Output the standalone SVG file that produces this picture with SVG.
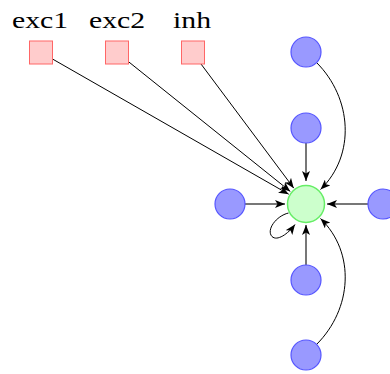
<svg xmlns="http://www.w3.org/2000/svg" width="390" height="374" viewBox="0 0 390 374">
  <style>
    .lbl { font-family: "Liberation Serif", "Times New Roman", serif; font-size: 24px; fill: #000; text-anchor: middle; }
    .inp { fill: #ffcccc; stroke: #ff6666; stroke-width: 1; }
    .src { fill: #9999ff; stroke: #5555ff; stroke-width: 1.2; }
    .tgt { fill: #ccffcc; stroke: #66ee66; stroke-width: 1.5; }
    .thin { fill: none; stroke: #000; stroke-width: 1; marker-end: url(#head); }
    .thick { fill: none; stroke: #777; stroke-width: 2; marker-end: url(#head); }
  </style>
  <defs>
    <marker id="head" viewBox="0 0 10 8" refX="10" refY="4" markerWidth="10" markerHeight="8" markerUnits="userSpaceOnUse" orient="auto">
      <path d="M0,0 L10,4 L0,8 L2.5,4 Z" fill="#000"/>
    </marker>
  </defs>

  <g id="connectors">
    <!-- inputs to the central neuron -->
    <line class="thin" x1="52.5" y1="59" x2="288.7" y2="194.2"/>
    <line class="thin" x1="128.5" y1="61.7" x2="290.3" y2="191.4"/>
    <line class="thin" x1="201" y1="64" x2="293.8" y2="188.2"/>
    <!-- straight projections -->
    <line class="thick" x1="306" y1="143" x2="306" y2="181"/>
    <line class="thick" x1="245" y1="204" x2="285" y2="204"/>
    <line class="thick" x1="368" y1="204" x2="327" y2="204"/>
    <line class="thick" x1="306" y1="265" x2="306" y2="225"/>
    <!-- bent projections -->
    <path class="thin" d="M316.6,62.6 C352,98 356,155 320.5,189.5"/>
    <path class="thin" d="M316.6,344.4 C352,309 356,253 320.5,218.5"/>
    <!-- self connection -->
    <path class="thin" d="M288.5,213 C276,216 266,230 272,236.5 C277,241.5 288,234 295,224.5"/>
  </g>

  <g id="exc1">
    <rect class="inp" x="29.5" y="41" width="23" height="23"/>
    <text class="lbl" transform="translate(40 28) scale(1.24 1)">exc1</text>
  </g>
  <g id="exc2">
    <rect class="inp" x="105.5" y="41" width="23" height="23"/>
    <text class="lbl" transform="translate(117 28) scale(1.24 1)">exc2</text>
  </g>
  <g id="inh">
    <rect class="inp" x="181.5" y="41" width="23" height="23"/>
    <text class="lbl" transform="translate(192 28) scale(1.24 1)">inh</text>
  </g>

  <g id="n_top"><circle class="src" cx="306" cy="52" r="15"/></g>
  <g id="n_upper"><circle class="src" cx="306" cy="128" r="15"/></g>
  <g id="n_left"><circle class="src" cx="230" cy="204" r="15"/></g>
  <g id="n_right"><circle class="src" cx="383" cy="204" r="15"/></g>
  <g id="n_lower"><circle class="src" cx="306" cy="280" r="15"/></g>
  <g id="n_bottom"><circle class="src" cx="306" cy="355" r="15"/></g>
  <g id="center"><circle class="tgt" cx="306" cy="204" r="18.5"/></g>
</svg>
